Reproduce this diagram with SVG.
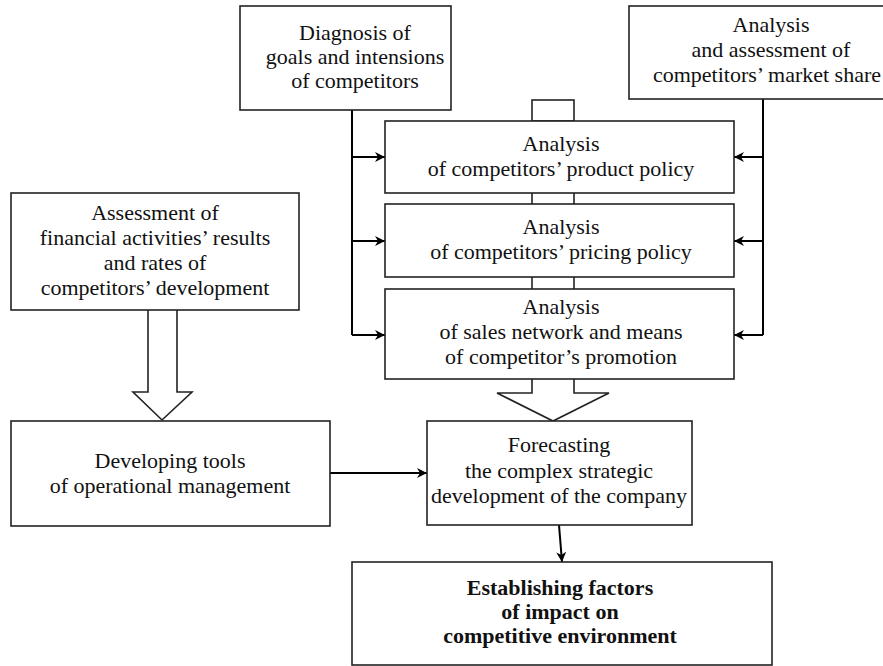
<svg xmlns="http://www.w3.org/2000/svg" width="883" height="666" viewBox="0 0 883 666">
<defs>
<marker id="ah" viewBox="0 0 10 10" refX="10" refY="5" markerWidth="10" markerHeight="10" markerUnits="userSpaceOnUse" orient="auto">
<path d="M0,0 L10,5 L0,10 L3,5 Z" fill="#000"/>
</marker>
</defs>
<style>
.box{fill:#fff;stroke:#222;stroke-width:1.6}
.t{font-family:"Liberation Serif","Times New Roman",serif;font-size:22px;fill:#111;text-anchor:middle}
.b{font-weight:bold}
.c{fill:none;stroke:#000;stroke-width:2}
.h{fill:#fff;stroke:#222;stroke-width:1.6;stroke-linejoin:miter}
</style>
<rect width="883" height="666" fill="#fff"/>
<g id="connectors">
<rect class="h" x="532" y="100" width="42" height="21"/>
<line class="h" x1="532" y1="193" x2="532" y2="204"/>
<line class="h" x1="574" y1="193" x2="574" y2="204"/>
<line class="h" x1="532" y1="277" x2="532" y2="289"/>
<line class="h" x1="574" y1="277" x2="574" y2="289"/>
<path class="c" d="M352,110 V335"/>
<path class="c" d="M352,157 H385" marker-end="url(#ah)"/>
<path class="c" d="M352,241 H385" marker-end="url(#ah)"/>
<path class="c" d="M352,335 H385" marker-end="url(#ah)"/>
<path class="c" d="M763,99 V335"/>
<path class="c" d="M763,157 H734" marker-end="url(#ah)"/>
<path class="c" d="M763,241 H734" marker-end="url(#ah)"/>
<path class="c" d="M763,335 H734" marker-end="url(#ah)"/>
<path class="h" d="M148,310 V392 H133 L162,420 L192,392 H177 V310"/>
<path class="h" d="M532,379 V393 H497 L553,421 L609,393 H574 V379"/>
<path class="c" d="M330,473 H427" marker-end="url(#ah)"/>
<path class="c" d="M559,525 L562,562" marker-end="url(#ah)"/>
</g>
<g id="diagnosis">
<rect class="box" x="240" y="6" width="211" height="104"/>
<text class="t" x="355" y="40">Diagnosis of</text>
<text class="t" x="355" y="64">goals and intensions</text>
<text class="t" x="355" y="88">of competitors</text>
</g>
<g id="market-share">
<rect class="box" x="629" y="6" width="290" height="93"/>
<text class="t" x="771" y="32">Analysis</text>
<text class="t" x="771" y="57">and assessment of</text>
<text class="t" x="767" y="82">competitors’ market share</text>
</g>
<g id="product">
<rect class="box" x="385" y="121" width="349" height="72"/>
<text class="t" x="561" y="151">Analysis</text>
<text class="t" x="561" y="176">of competitors’ product policy</text>
</g>
<g id="pricing">
<rect class="box" x="385" y="204" width="349" height="73"/>
<text class="t" x="561" y="234">Analysis</text>
<text class="t" x="561" y="259">of competitors’ pricing policy</text>
</g>
<g id="sales">
<rect class="box" x="385" y="289" width="349" height="90"/>
<text class="t" x="561" y="314">Analysis</text>
<text class="t" x="561" y="339">of sales network and means</text>
<text class="t" x="561" y="364">of competitor’s promotion</text>
</g>
<g id="assessment">
<rect class="box" x="11" y="193" width="288" height="117"/>
<text class="t" x="155" y="220">Assessment of</text>
<text class="t" x="155" y="245">financial activities’ results</text>
<text class="t" x="155" y="270">and rates of</text>
<text class="t" x="155" y="295">competitors’ development</text>
</g>
<g id="developing">
<rect class="box" x="11" y="421" width="319" height="105"/>
<text class="t" x="170" y="468">Developing tools</text>
<text class="t" x="170" y="493">of operational management</text>
</g>
<g id="forecasting">
<rect class="box" x="427" y="421" width="265" height="104"/>
<text class="t" x="559" y="452">Forecasting</text>
<text class="t" x="559" y="478">the complex strategic</text>
<text class="t" x="559" y="503">development of the company</text>
</g>
<g id="establishing">
<rect class="box" x="352" y="562" width="420" height="103"/>
<text class="t b" x="560" y="595">Establishing factors</text>
<text class="t b" x="560" y="619">of impact on</text>
<text class="t b" x="560" y="643">competitive environment</text>
</g>
</svg>
